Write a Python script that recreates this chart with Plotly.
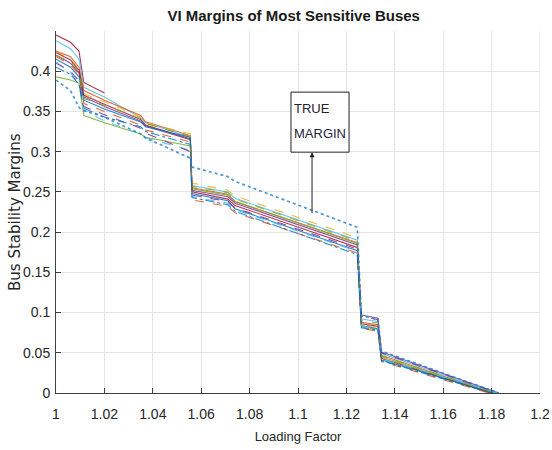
import plotly.graph_objects as go

# Loading-factor breakpoints shared by every bus curve
load_factor = [1.000, 1.006, 1.0095, 1.0115, 1.020, 1.035, 1.037, 1.0555, 1.0562,
               1.071, 1.074, 1.1245, 1.1262, 1.1330, 1.1345]

# Bus stability margins at each breakpoint (None = no data)
bus_red_a = [0.445, 0.436, 0.425, 0.386, 0.373, None, None, None, None, None, None, None, None, None, None]
bus_lblue_a = [0.438, 0.428, 0.415, 0.380, 0.368, 0.342, 0.336, 0.318, 0.258, 0.250, 0.242, 0.190, 0.092, 0.089, 0.049]
bus_orange_a = [0.425, 0.418, 0.405, 0.376, 0.364, 0.345, 0.337, 0.320, 0.255, 0.247, 0.238, 0.187, 0.088, 0.085, 0.047]
bus_yellow_a = [0.424, 0.415, 0.402, 0.372, 0.362, 0.343, 0.336, 0.322, 0.261, 0.252, 0.245, 0.193, 0.085, 0.082, 0.044]
bus_purple_a = [0.420, 0.410, 0.398, 0.368, 0.356, 0.338, 0.332, 0.315, 0.252, 0.244, 0.236, 0.184, 0.097, 0.093, 0.051]
bus_green_a = [0.393, 0.389, 0.385, 0.345, 0.336, 0.322, 0.318, 0.307, 0.254, 0.246, 0.238, 0.186, 0.082, 0.079, 0.045]
bus_red_b = [0.423, 0.414, 0.401, 0.370, 0.359, 0.340, 0.333, 0.316, 0.250, 0.241, 0.233, 0.181, 0.086, 0.083, 0.043]
bus_blue_a = [0.415, 0.405, 0.393, 0.364, 0.353, 0.337, 0.331, 0.318, 0.248, 0.239, 0.229, 0.177, 0.084, 0.080, 0.041]
bus_orange_b = [0.418, 0.408, 0.396, 0.360, 0.350, 0.333, 0.327, 0.312, 0.240, 0.232, 0.224, 0.174, 0.080, 0.077, 0.039]
bus_lblue_b = [0.412, 0.398, 0.385, 0.352, 0.338, 0.322, 0.317, 0.302, 0.244, 0.236, 0.228, 0.176, 0.083, 0.080, 0.042]
bus_green_b = [0.420, 0.412, 0.400, 0.366, 0.358, 0.341, 0.335, 0.319, 0.257, 0.249, 0.241, 0.189, 0.090, 0.087, 0.046]
bus_purple_b = [0.410, 0.400, 0.388, 0.356, 0.346, 0.329, 0.323, 0.300, 0.246, 0.238, 0.230, 0.179, 0.095, 0.091, 0.050]
bus_blue_b = [0.405, 0.396, 0.384, 0.354, 0.343, 0.331, 0.325, 0.309, 0.243, 0.234, 0.226, 0.172, 0.081, 0.078, 0.040]
true_margin = [0.389, 0.376, 0.355, 0.351, 0.343, 0.322, 0.317, 0.292, 0.281, 0.269, 0.263, 0.206, 0.096, 0.092, 0.052]

# Loading factor at which each bus margin reaches zero
collapse_load = {
    "bus_lblue_a": 1.1820, "bus_orange_a": 1.1805, "bus_yellow_a": 1.1800,
    "bus_purple_a": 1.1830, "bus_green_a": 1.1800, "bus_red_b": 1.1795,
    "bus_blue_a": 1.1810, "bus_orange_b": 1.1790, "bus_lblue_b": 1.1835,
    "bus_green_b": 1.1815, "bus_purple_b": 1.1825, "bus_blue_b": 1.1800,
    "true_margin": 1.1830,
}

BLUE, ORANGE, YELLOW, PURPLE = "#0072BD", "#D95319", "#EDB120", "#7E2F8E"
GREEN, LBLUE, DRED = "#77AC30", "#4DBEEE", "#A2142F"

series = [
    ("bus_red_a", bus_red_a, DRED, "solid"),
    ("bus_lblue_a", bus_lblue_a, LBLUE, "solid"),
    ("bus_orange_a", bus_orange_a, ORANGE, "solid"),
    ("bus_yellow_a", bus_yellow_a, YELLOW, "dash"),
    ("bus_purple_a", bus_purple_a, PURPLE, "solid"),
    ("bus_green_a", bus_green_a, GREEN, "solid"),
    ("bus_red_b", bus_red_b, DRED, "solid"),
    ("bus_blue_a", bus_blue_a, BLUE, "solid"),
    ("bus_orange_b", bus_orange_b, ORANGE, "dash"),
    ("bus_lblue_b", bus_lblue_b, LBLUE, "dash"),
    ("bus_green_b", bus_green_b, GREEN, "dash"),
    ("bus_purple_b", bus_purple_b, PURPLE, "dash"),
    ("bus_blue_b", bus_blue_b, BLUE, "dashdot"),
    ("true_margin", true_margin, "#2f86c8", "dot"),
]

fig = go.Figure()
for name, vals, color, dash in series:
    xs = [x for x, v in zip(load_factor, vals) if v is not None]
    ys = [v for v in vals if v is not None]
    if name in collapse_load:
        xs = xs + [collapse_load[name]]
        ys = ys + [0.0]
    fig.add_trace(go.Scatter(
        x=xs, y=ys, mode="lines", name=name,
        line=dict(color=color, width=1.7 if dash == "dot" else 1.1, dash=dash),
        opacity=0.85,
    ))

x_ticks = [1, 1.02, 1.04, 1.06, 1.08, 1.1, 1.12, 1.14, 1.16, 1.18, 1.2]
y_ticks = [0, 0.05, 0.1, 0.15, 0.2, 0.25, 0.3, 0.35, 0.4]
tick_font = dict(family="Liberation Sans, Arial", size=14, color="#262626")

fig.update_layout(
    width=552, height=450,
    margin=dict(l=56, r=12, t=31, b=57),
    paper_bgcolor="white", plot_bgcolor="white",
    showlegend=False,
    title=dict(text="<b>VI Margins of Most Sensitive Buses</b>", x=0.532, xanchor="center",
               y=0.966, yanchor="middle",
               font=dict(family="Liberation Sans, Arial", size=15, color="#1a1a1a")),
    xaxis=dict(range=[1, 1.2], tickvals=x_ticks, ticktext=[f"{v:g}" for v in x_ticks],
               showgrid=True, gridcolor="#e4e4e4", gridwidth=1,
               showline=True, linecolor="#404040", linewidth=1,
               ticks="inside", ticklen=5, tickcolor="#404040",
               tickfont=tick_font, zeroline=False, ticklabelstandoff=8,
               automargin=False,
               title=dict(text="Loading Factor", standoff=11,
                          font=dict(family="Liberation Sans, Arial", size=13, color="#262626"))),
    yaxis=dict(range=[0, 0.45], tickvals=y_ticks, ticktext=[f"{v:g}" for v in y_ticks],
               showgrid=True, gridcolor="#e4e4e4", gridwidth=1,
               showline=True, linecolor="#404040", linewidth=1,
               ticks="inside", ticklen=5, tickcolor="#404040",
               tickfont=tick_font, zeroline=False, ticklabelstandoff=2,
               automargin=False),
)

# Y-axis title placed close to the tick labels
fig.add_annotation(x=0, y=0.5, xref="paper", yref="paper", xanchor="center", yanchor="middle",
                   xshift=-41, textangle=-90, showarrow=False, text="Bus Stability Margins",
                   font=dict(family="DejaVu Sans, Liberation Sans", size=15, color="#262626"))

# Right-hand grid edge at the last x tick
fig.add_shape(type="line", xref="x", yref="paper", x0=1.2, x1=1.2, y0=0, y1=1,
              line=dict(color="#e4e4e4", width=1), layer="below")

# Callout box naming the true-margin curve
fig.add_shape(type="rect", xref="x", yref="y", x0=1.0971, x1=1.1211, y0=0.2994, y1=0.374,
              line=dict(color="#222222", width=1), fillcolor="white")
label_font = dict(family="Liberation Sans, Arial", size=13, color="#1e2238")
fig.add_annotation(x=1.0977, y=0.354, xref="x", yref="y", text="TRUE", showarrow=False,
                   xanchor="left", yanchor="middle", font=label_font)
fig.add_annotation(x=1.0977, y=0.323, xref="x", yref="y", text="MARGIN", showarrow=False,
                   xanchor="left", yanchor="middle", font=label_font)
fig.add_annotation(x=1.1058, y=0.2994, ax=1.1058, ay=0.222, xref="x", yref="y",
                   axref="x", ayref="y", text="", showarrow=True,
                   arrowhead=2, arrowsize=1, arrowwidth=1, arrowcolor="#222222", standoff=0)

fig.write_html("out.html")
